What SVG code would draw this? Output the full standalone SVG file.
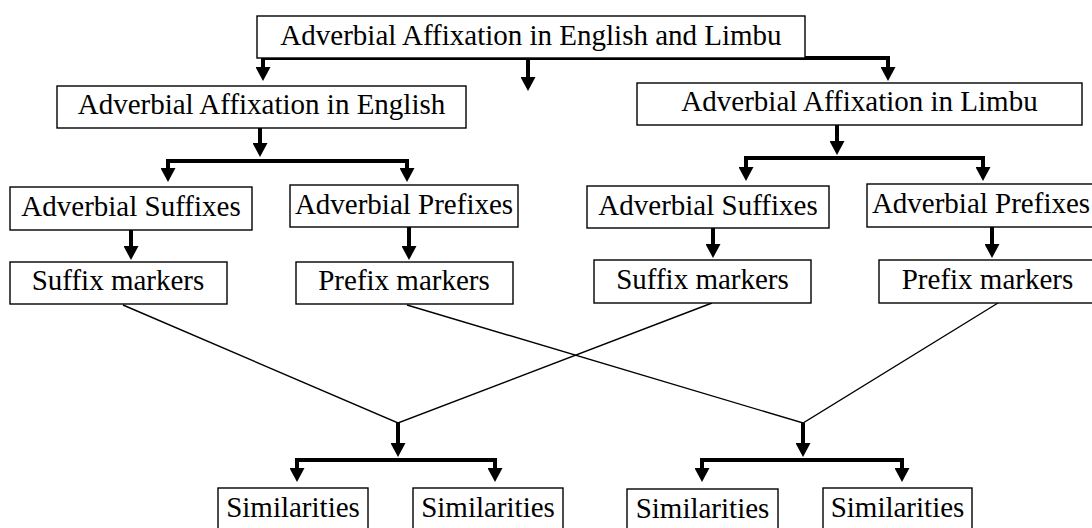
<svg xmlns="http://www.w3.org/2000/svg" width="1092" height="528" viewBox="0 0 1092 528">
<style>
.box rect{fill:#fff;stroke:#000;stroke-width:1.4}
.box text{font-family:"Liberation Serif","Times New Roman",serif;font-size:29px;fill:#000;text-anchor:middle}
.thick{fill:none;stroke:#000;stroke-width:4;stroke-linejoin:miter}
.thin{fill:none;stroke:#000;stroke-width:1.4}
</style>
<defs>
<marker id="ah" viewBox="0 -7.5 14 15" refX="0" refY="0" markerWidth="14" markerHeight="15" markerUnits="userSpaceOnUse" orient="auto-start-reverse">
<path d="M0,-7.5 L14,0 L0,7.5 z" fill="#000"/>
</marker>
</defs>
<g id="connectors">
<path class="thick" d="M263,67 V58 H888 V67" marker-start="url(#ah)" marker-end="url(#ah)"/>
<path class="thick" d="M528,58 V77" marker-end="url(#ah)"/>
<path class="thick" d="M260,128 V143" marker-end="url(#ah)"/>
<path class="thick" d="M168,168 V161 H407 V168" marker-start="url(#ah)" marker-end="url(#ah)"/>
<path class="thick" d="M131,230 V246" marker-end="url(#ah)"/>
<path class="thick" d="M409,227 V246" marker-end="url(#ah)"/>
<path class="thick" d="M837,125 V141" marker-end="url(#ah)"/>
<path class="thick" d="M746,167 V158 H983 V167" marker-start="url(#ah)" marker-end="url(#ah)"/>
<path class="thick" d="M713,228 V244" marker-end="url(#ah)"/>
<path class="thick" d="M992,227 V244" marker-end="url(#ah)"/>
<path class="thin" d="M123,305 L398,423 L712,303"/>
<path class="thin" d="M407,305 L803,423 L998,303"/>
<path class="thick" d="M398,423 V443" marker-end="url(#ah)"/>
<path class="thick" d="M297,468 V460 H495 V468" marker-start="url(#ah)" marker-end="url(#ah)"/>
<path class="thick" d="M803,423 V443" marker-end="url(#ah)"/>
<path class="thick" d="M702,468 V460 H902 V468" marker-start="url(#ah)" marker-end="url(#ah)"/>
</g>
<g id="root" class="box"><rect x="257" y="16" width="548" height="42"/><text x="531" y="45">Adverbial Affixation in English and Limbu</text></g>
<g id="english" class="box"><rect x="57" y="86" width="409" height="42"/><text x="261.5" y="114">Adverbial Affixation in English</text></g>
<g id="limbu" class="box"><rect x="637" y="83" width="445" height="42"/><text x="859.5" y="111">Adverbial Affixation in Limbu</text></g>
<g id="eng-suffixes" class="box"><rect x="10" y="187" width="242" height="43"/><text x="131" y="216">Adverbial Suffixes</text></g>
<g id="eng-prefixes" class="box"><rect x="290" y="185" width="228" height="42"/><text x="404" y="214">Adverbial Prefixes</text></g>
<g id="lim-suffixes" class="box"><rect x="587" y="186" width="242" height="42"/><text x="708" y="215">Adverbial Suffixes</text></g>
<g id="lim-prefixes" class="box"><rect x="867" y="184" width="228" height="43"/><text x="981" y="213">Adverbial Prefixes</text></g>
<g id="eng-suffix-markers" class="box"><rect x="10" y="262" width="217" height="42"/><text x="118" y="290">Suffix markers</text></g>
<g id="eng-prefix-markers" class="box"><rect x="296" y="262" width="217" height="42"/><text x="404" y="290">Prefix markers</text></g>
<g id="lim-suffix-markers" class="box"><rect x="594" y="260" width="217" height="43"/><text x="702.5" y="289">Suffix markers</text></g>
<g id="lim-prefix-markers" class="box"><rect x="879" y="260" width="217" height="43"/><text x="987.5" y="289">Prefix markers</text></g>
<g id="sim1" class="box"><rect x="218" y="488" width="150" height="44"/><text x="293" y="517">Similarities</text></g>
<g id="sim2" class="box"><rect x="413" y="488" width="150" height="44"/><text x="488" y="517">Similarities</text></g>
<g id="sim3" class="box"><rect x="627" y="489" width="151" height="44"/><text x="702.5" y="518">Similarities</text></g>
<g id="sim4" class="box"><rect x="823" y="488" width="149" height="44"/><text x="897.5" y="517">Similarities</text></g>
</svg>
